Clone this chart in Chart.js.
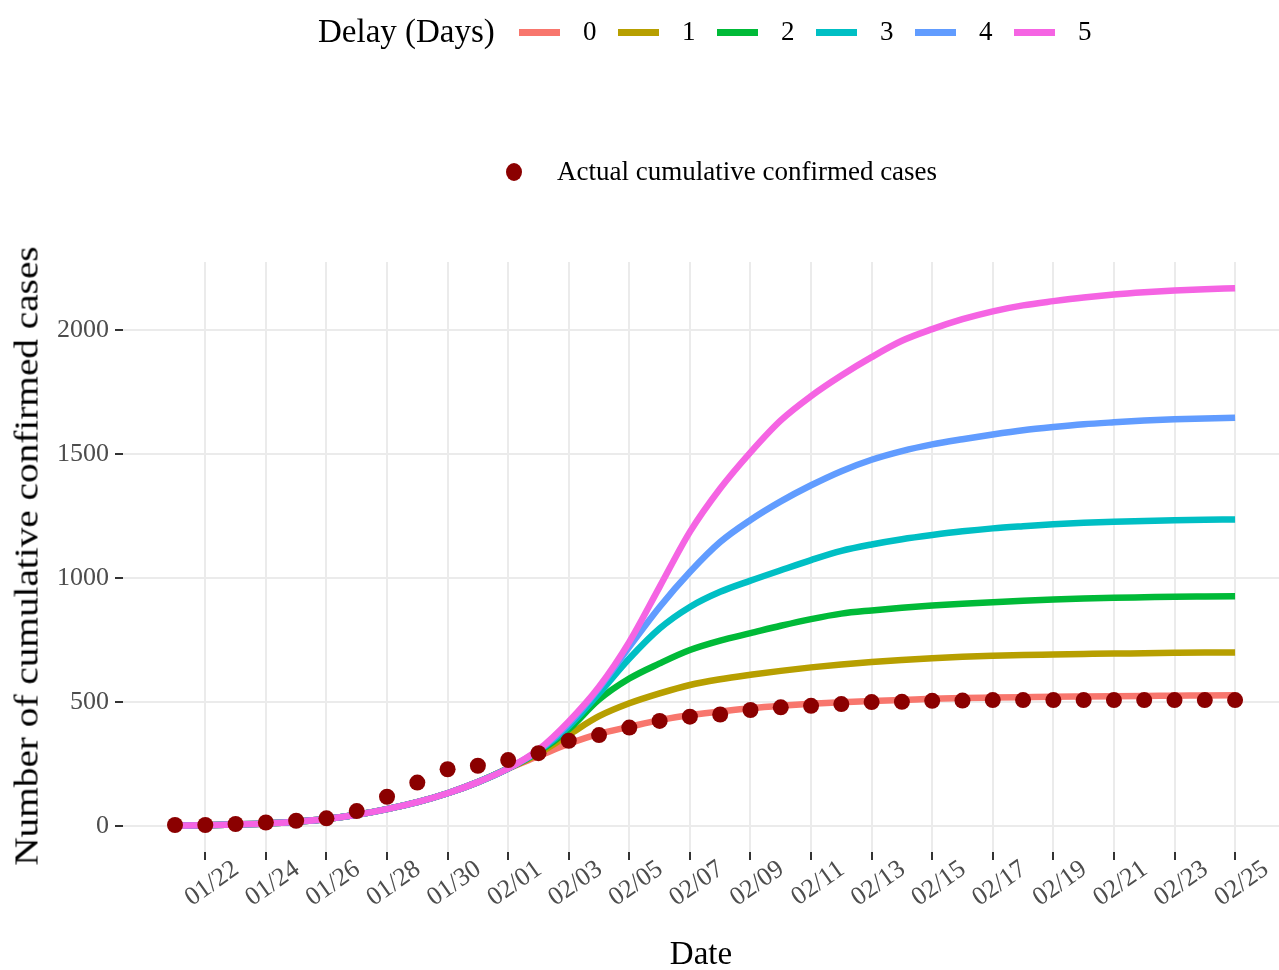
<!DOCTYPE html>
<html><head><meta charset="utf-8">
<script src="https://cdn.jsdelivr.net/npm/chart.js@4.4.1/dist/chart.umd.min.js"></script>
<style>
html,body{margin:0;padding:0;background:#fff;overflow:hidden}
#wrap{position:relative;width:1279px;height:970px;font-family:'Liberation Serif','Times New Roman',serif;color:#000}
#c{position:absolute;left:0;top:0}
.t{position:absolute;white-space:nowrap;line-height:1}
.sw{position:absolute;height:7px;width:41px}
</style></head><body>
<div id="wrap">
<canvas id="c" width="1279" height="970"></canvas>
<div id="legend"></div>
<div class="t" id="ytitle" style="left:27px;top:556px;font-size:33px;transform:translate(-50%,-50%) rotate(-90deg) scaleX(1.19)">Number of cumulative confirmed cases</div>
</div>
<script>
// ---- data ----
const dates = ['01/21','01/22','01/23','01/24','01/25','01/26','01/27','01/28','01/29','01/30','01/31',
  '02/01','02/02','02/03','02/04','02/05','02/06','02/07','02/08','02/09','02/10','02/11','02/12',
  '02/13','02/14','02/15','02/16','02/17','02/18','02/19','02/20','02/21','02/22','02/23','02/24','02/25'];
const xTickLabels = ['01/22','01/24','01/26','01/28','01/30','02/01','02/03','02/05','02/07','02/09',
  '02/11','02/13','02/15','02/17','02/19','02/21','02/23','02/25'];
const yTickValues = [0, 500, 1000, 1500, 2000];
const delayNames = ['0','1','2','3','4','5'];
const actualCases = [4,4,8,14,21,31,60,118,175,229,243,266,294,344,367,397,424,441,450,468,479,485,492,500,501,505,506,508,508,508,508,508,508,508,508,508];
const delay0 = [1,3,6,10,17,28,45,68,96,132,177,232,282,332,372,400,427,448,462,475,485,493,499,504,508,513,516,518,520,522,523,524,525,526,527,528];
const delay1 = [1,3,6,10,17,28,45,68,96,132,177,232,292,368,443,495,535,569,592,610,626,640,652,662,670,677,683,687,690,692,694,696,697,699,700,700];
const delay2 = [1,3,6,10,17,28,45,68,96,132,177,232,298,390,510,595,656,710,748,778,808,835,857,870,881,890,897,903,909,914,918,921,923,925,926,927];
const delay3 = [1,3,6,10,17,28,45,68,96,132,177,232,302,402,535,676,797,884,945,990,1032,1073,1110,1136,1157,1174,1189,1201,1210,1218,1224,1228,1231,1234,1236,1237];
const delay4 = [1,3,6,10,17,28,45,68,96,132,177,232,305,414,556,723,884,1025,1146,1235,1310,1375,1432,1478,1513,1540,1561,1580,1597,1610,1621,1629,1636,1641,1644,1647];
const delay5 = [1,3,6,10,17,28,45,68,96,132,177,232,308,422,562,743,965,1187,1362,1508,1637,1735,1818,1892,1958,2005,2045,2077,2101,2118,2133,2145,2154,2161,2166,2170];
const delaySeries = [delay0, delay1, delay2, delay3, delay4, delay5];
const delayColors = ['#F8766D','#B79F00','#00BA38','#00BFC4','#619CFF','#F564E3'];
const actualLabel = 'Actual cumulative confirmed cases';
const legendTitle = 'Delay (Days)';

// ---- legend (HTML text) ----
const lg = document.getElementById('legend');
function addText(txt, left, cy, size){
  const d = document.createElement('div');
  d.className='t'; d.textContent = txt;
  d.style.left = left+'px'; d.style.top = (cy - size*0.52)+'px'; d.style.fontSize = size+'px';
  lg.appendChild(d);
}
addText(legendTitle, 318, 32, 33);
delayNames.forEach((n,i)=>{
  const s = document.createElement('div');
  s.className='sw'; s.style.left=(519+99*i)+'px'; s.style.top='29px'; s.style.background=delayColors[i];
  lg.appendChild(s);
  addText(n, 583+99*i, 32, 27);
});
const dot = document.createElement('div');
dot.style.cssText='position:absolute;left:506px;top:163px;width:16px;height:18px;border-radius:50%;background:#8B0000';
lg.appendChild(dot);
addText(actualLabel, 557, 172, 27);

// ---- chart ----
const FAM = "'Liberation Serif','Times New Roman',serif";
const toPts = arr => arr.map((v,i)=>({x:i, y:v}));
const datasets = [{
  label: actualLabel, data: toPts(actualCases), showLine:false,
  pointRadius:8, pointBackgroundColor:'#8B0000', pointBorderWidth:0, order:0
}];
delaySeries.forEach((arr,i)=>{
  datasets.push({label: delayNames[i], data: toPts(arr), borderColor: delayColors[i],
    borderWidth:6.5, pointRadius:0, cubicInterpolationMode:'monotone', fill:false, order: 6 - i + 1});
});
const gridCommon = {color:'#EBEBEB', lineWidth:2, tickColor:'#333333', tickWidth:2, tickLength:8, drawTicks:true};
new Chart(document.getElementById('c'), {
  type:'line',
  data:{datasets},
  options:{
    responsive:false, animation:false, devicePixelRatio:1,
    layout:{autoPadding:false, padding:{top:262,left:0,right:0,bottom:0}},
    plugins:{legend:{display:false}, tooltip:{enabled:false}},
    scales:{
      x:{type:'linear', min:-1.717, max:36.45,
        afterBuildTicks: s => { s.ticks = xTickLabels.map(l => ({value: dates.indexOf(l)})); },
        afterFit: s => { s.height = 118; s.paddingLeft = 0; s.paddingRight = 0; },
        grid: gridCommon, border:{display:false},
        ticks:{autoSkip:false, minRotation:35, maxRotation:35, color:'#4D4D4D', font:{family:FAM, size:26},
          padding:-6, labelOffset:31, callback: v => dates[v]},
        title:{display:true, text:'Date', color:'#000', font:{family:FAM, size:33, lineHeight:0.9}, padding:{top:0,bottom:0}}
      },
      y:{type:'linear', min:-105, max:2276,
        afterBuildTicks: s => { s.ticks = yTickValues.map(v => ({value:v})); },
        afterFit: s => { s.width = 123; s.paddingTop = 0; s.paddingBottom = 0; },
        grid: gridCommon, border:{display:false},
        ticks:{color:'#4D4D4D', font:{family:FAM, size:26}, padding:6, callback: v => String(v)}
      }
    }
  }
});
</script>
</body></html>
